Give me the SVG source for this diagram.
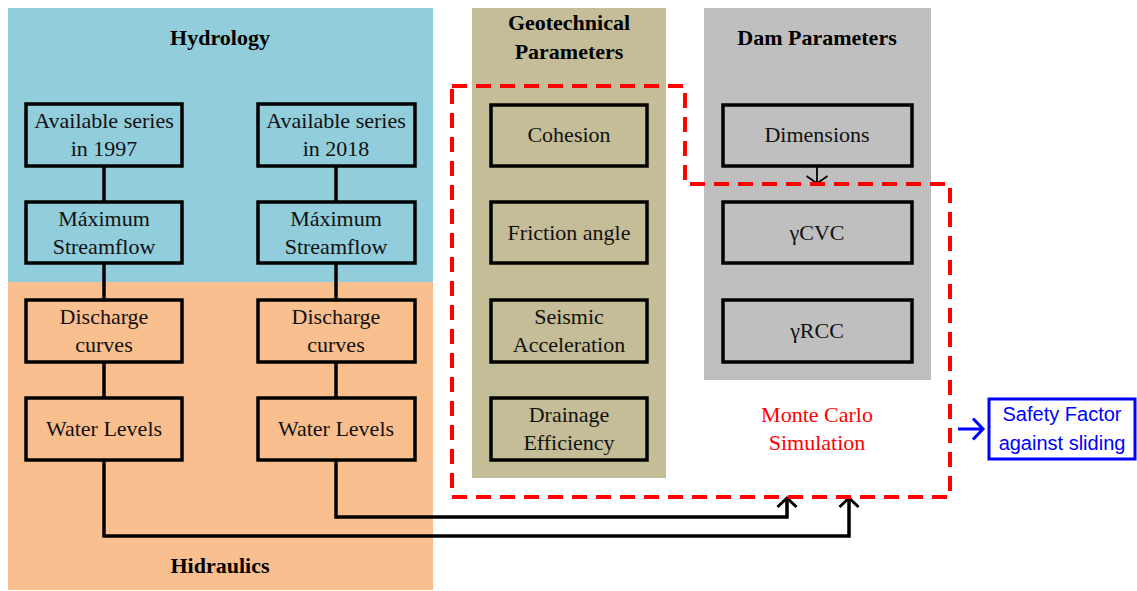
<svg xmlns="http://www.w3.org/2000/svg" width="1137" height="591" viewBox="0 0 1137 591">
  <defs>
    <marker id="chev" viewBox="0 0 10 20" refX="9" refY="10" markerWidth="10" markerHeight="20" markerUnits="userSpaceOnUse" orient="auto" overflow="visible">
      <path d="M0,0.5 L9,10 L0,19.5" fill="none" stroke="#000" stroke-width="3"/>
    </marker>
    <marker id="chevThin" viewBox="0 0 8 22" refX="8" refY="11" markerWidth="8" markerHeight="22" markerUnits="userSpaceOnUse" orient="auto" overflow="visible">
      <path d="M0,0.5 L7.5,11 L0,21.5" fill="none" stroke="#000" stroke-width="1.8"/>
    </marker>
    <marker id="chevBlue" viewBox="0 0 12 24" refX="11" refY="12" markerWidth="12" markerHeight="24" markerUnits="userSpaceOnUse" orient="auto" overflow="visible">
      <path d="M1,1.5 L11,12 L1,22.5" fill="none" stroke="#0000FF" stroke-width="3"/>
    </marker>
  </defs>
  <style>
    .box { stroke: #000; stroke-width: 3.5; }
    .t { font-family: "Liberation Serif", "Times New Roman", serif; font-size: 22px; fill: #111; text-anchor: middle; }
    .h { font-family: "Liberation Serif", "Times New Roman", serif; font-size: 22px; font-weight: bold; fill: #000; text-anchor: middle; }
    .link { fill: none; stroke: #000; stroke-width: 3.5; }
  </style>
  <rect width="1137" height="591" fill="#fff"/>

  <!-- background panels -->
  <g id="panels">
    <rect x="8" y="8" width="425" height="274" fill="#92CDDC"/>
    <rect x="8" y="282" width="425" height="308" fill="#FABF8F"/>
    <rect x="472" y="8" width="194" height="470" fill="#C4BD97"/>
    <rect x="704" y="8" width="227" height="372" fill="#BFBFBF"/>
    <text class="h" x="220" y="45">Hydrology</text>
    <text class="h" x="220" y="573">Hidraulics</text>
    <text class="h" x="569" y="30">Geotechnical</text>
    <text class="h" x="569" y="59">Parameters</text>
    <text class="h" x="817" y="45">Dam Parameters</text>
  </g>

  <!-- connectors -->
  <g id="connectors">
    <line class="link" x1="104" y1="166" x2="104" y2="202"/>
    <line class="link" x1="104" y1="263" x2="104" y2="300"/>
    <line class="link" x1="104" y1="362" x2="104" y2="398"/>
    <line class="link" x1="336" y1="166" x2="336" y2="202"/>
    <line class="link" x1="336" y1="263" x2="336" y2="300"/>
    <line class="link" x1="336" y1="362" x2="336" y2="398"/>
    <path class="link" d="M104,460 V536 H849 V498" marker-end="url(#chev)"/>
    <path class="link" d="M336,460 V517 H787 V498" marker-end="url(#chev)"/>
    <line x1="817" y1="166" x2="817" y2="184" stroke="#000" stroke-width="1.8" marker-end="url(#chevThin)"/>
    <line x1="958" y1="429" x2="983" y2="429" stroke="#0000FF" stroke-width="3" marker-end="url(#chevBlue)"/>
  </g>

  <!-- Monte Carlo simulation boundary -->
  <g id="monte-carlo">
    <path d="M452,86 H685 V184 H950 V497 H452 Z" fill="none" stroke="#FF0000" stroke-width="4" stroke-dasharray="15,9"/>
    <text class="t" x="817" y="422" style="fill:#FF0000">Monte Carlo</text>
    <text class="t" x="817" y="450" style="fill:#FF0000">Simulation</text>
  </g>

  <!-- hydrology / hydraulics chains -->
  <g id="series-1997">
    <rect class="box" x="26" y="104" width="156" height="62" fill="#92CDDC"/>
    <text class="t" x="104" y="128">Available series</text>
    <text class="t" x="104" y="156">in 1997</text>
  </g>
  <g id="maxflow-1997">
    <rect class="box" x="26" y="202" width="156" height="61" fill="#92CDDC"/>
    <text class="t" x="104" y="226">Máximum</text>
    <text class="t" x="104" y="254">Streamflow</text>
  </g>
  <g id="discharge-1997">
    <rect class="box" x="26" y="300" width="156" height="62" fill="#FABF8F"/>
    <text class="t" x="104" y="324">Discharge</text>
    <text class="t" x="104" y="352">curves</text>
  </g>
  <g id="levels-1997">
    <rect class="box" x="26" y="398" width="156" height="62" fill="#FABF8F"/>
    <text class="t" x="104" y="436">Water Levels</text>
  </g>

  <g id="series-2018">
    <rect class="box" x="258" y="104" width="157" height="62" fill="#92CDDC"/>
    <text class="t" x="336" y="128">Available series</text>
    <text class="t" x="336" y="156">in 2018</text>
  </g>
  <g id="maxflow-2018">
    <rect class="box" x="258" y="202" width="157" height="61" fill="#92CDDC"/>
    <text class="t" x="336" y="226">Máximum</text>
    <text class="t" x="336" y="254">Streamflow</text>
  </g>
  <g id="discharge-2018">
    <rect class="box" x="258" y="300" width="157" height="62" fill="#FABF8F"/>
    <text class="t" x="336" y="324">Discharge</text>
    <text class="t" x="336" y="352">curves</text>
  </g>
  <g id="levels-2018">
    <rect class="box" x="258" y="398" width="157" height="62" fill="#FABF8F"/>
    <text class="t" x="336" y="436">Water Levels</text>
  </g>

  <!-- geotechnical parameters -->
  <g id="cohesion">
    <rect class="box" x="491" y="105" width="156" height="61" fill="#C4BD97"/>
    <text class="t" x="569" y="142">Cohesion</text>
  </g>
  <g id="friction">
    <rect class="box" x="491" y="202" width="156" height="61" fill="#C4BD97"/>
    <text class="t" x="569" y="240">Friction angle</text>
  </g>
  <g id="seismic">
    <rect class="box" x="491" y="300" width="156" height="62" fill="#C4BD97"/>
    <text class="t" x="569" y="324">Seismic</text>
    <text class="t" x="569" y="352">Acceleration</text>
  </g>
  <g id="drainage">
    <rect class="box" x="491" y="398" width="156" height="62" fill="#C4BD97"/>
    <text class="t" x="569" y="422">Drainage</text>
    <text class="t" x="569" y="450">Efficiency</text>
  </g>

  <!-- dam parameters -->
  <g id="dimensions">
    <rect class="box" x="723" y="105" width="189" height="61" fill="#BFBFBF"/>
    <text class="t" x="817" y="142">Dimensions</text>
  </g>
  <g id="gamma-cvc">
    <rect class="box" x="723" y="202" width="189" height="61" fill="#BFBFBF"/>
    <text class="t" x="817" y="240">γCVC</text>
  </g>
  <g id="gamma-rcc">
    <rect class="box" x="723" y="300" width="189" height="62" fill="#BFBFBF"/>
    <text class="t" x="817" y="338">γRCC</text>
  </g>

  <!-- result -->
  <g id="safety-factor">
    <rect x="989" y="399" width="146" height="60" fill="#fff" stroke="#0000FF" stroke-width="3"/>
    <text x="1062" y="421" fill="#0000FF" font-family="Liberation Sans, Arial, sans-serif" font-size="20" text-anchor="middle">Safety Factor</text>
    <text x="1062" y="450" fill="#0000FF" font-family="Liberation Sans, Arial, sans-serif" font-size="20" text-anchor="middle">against sliding</text>
  </g>
</svg>
